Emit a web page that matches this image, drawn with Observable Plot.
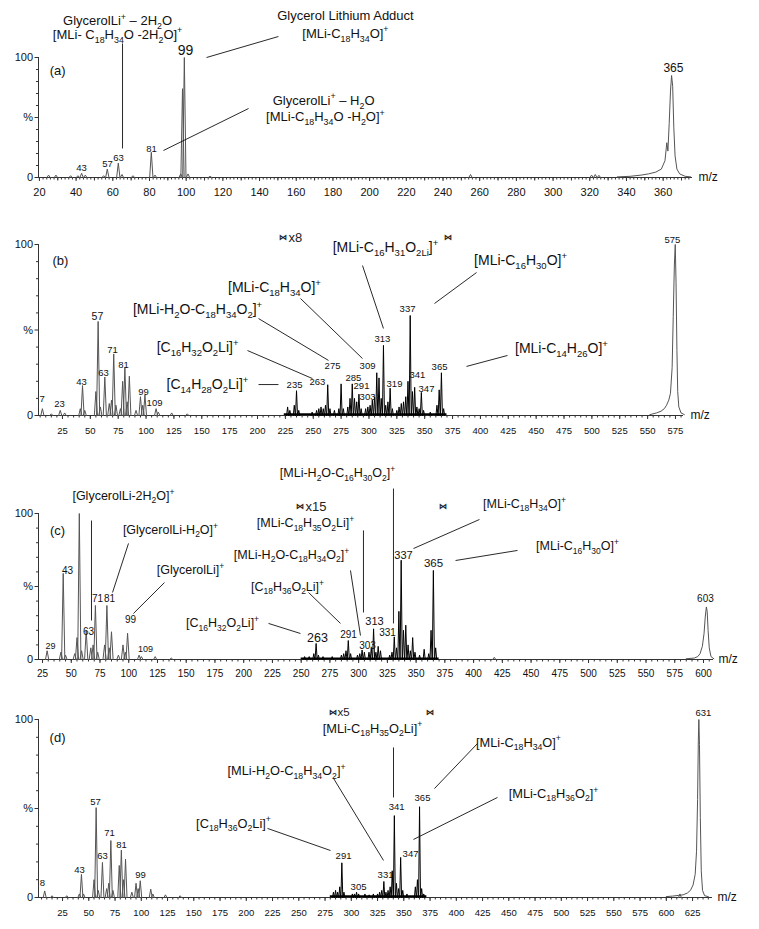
<!DOCTYPE html>
<html><head><meta charset="utf-8">
<script src="https://cdn.jsdelivr.net/npm/d3@7"></script>
<script src="https://cdn.jsdelivr.net/npm/@observablehq/plot@0.6"></script>
<style>
body{margin:0;background:#fff;}
#root{width:759px;}
#root svg{display:block;}
</style></head><body><div id="root"></div>
<script>
// ================= Panel (a) =================
const aPeakMz  = [25, 29, 37, 41, 43, 45, 55, 57, 63, 65, 71, 81, 83, 97, 98, 99, 101, 113, 255, 321, 323, 325];
const aPeakInt = [2, 2, 1.5, 1.5, 3.5, 2, 1.5, 7, 12, 2.5, 1.5, 21, 2, 3, 74, 100, 3, 1, 2.5, 2, 2.5, 1.8];
const aIonMz   = [335, 342, 348, 352, 356, 359, 361, 362, 362.6, 363.3, 364, 364.6, 365.2, 365.8, 366.5, 367.5, 369, 372, 375];
const aIonInt  = [0.5, 1, 2, 3, 4.5, 7, 14, 29, 22, 45, 72, 85, 76, 42, 18, 7, 3, 1, 0.5];
const aLabelText = ["43", "57", "63", "81", "99", "365"];
const aLabelMz   = [42.9, 57.1, 63.1, 81.1, 99.6, 365.6];
const aLabelPct  = [8.3, 11.7, 16.7, 24.2, 105.8, 90.8];
const aNoteText = ["GlycerolLi^{+} – 2H_{2}O", "[MLi- C_{18}H_{34}O -2H_{2}O]^{+}", "Glycerol Lithium Adduct", "[MLi-C_{18}H_{34}O]^{+}", "GlycerolLi^{+} – H_{2}O", "[MLi-C_{18}H_{34}O -H_{2}O]^{+}"];
const aNoteMz   = [62.6, 62.6, 186.8, 186.8, 174.9, 175.9];
const aNotePct  = [130.8, 119.2, 135, 120, 64.2, 50.8];
const aLeads = [[65.3, 111.7, 65.3, 24.2], [111.1, 100, 150.3, 117.5], [87.6, 22.5, 134, 57.5]];

// ================= Panel (b) =================
const bGreyMz  = [7, 15, 23, 27, 41, 43, 45, 55, 57, 59, 63, 67, 69, 71, 73, 77, 79, 81, 83, 85, 91, 95, 97, 99, 109, 111, 123, 137];
const bGreyInt = [4, 1, 3, 1.5, 4, 17.5, 3, 14, 55, 5, 22.5, 7, 9, 36, 6, 4, 20, 28, 8, 23, 3, 11, 6, 12, 4, 2, 1.5, 1];
const bBlackMz  = [227, 229, 233, 235, 237, 249, 253, 255, 257, 259, 261, 263, 265, 269, 273, 275, 277, 281, 283, 285, 287, 289, 291, 293, 297, 299, 301, 303, 305, 307, 309, 311, 313, 315, 317, 319, 321, 325, 327, 329, 331, 333, 335, 337, 339, 341, 343, 345, 347, 349, 355, 361, 363, 365, 367];
const bBlackInt = [5, 3, 6, 14.5, 3, 2, 3, 4, 5, 4, 6, 18, 4, 3, 4, 18.5, 4, 5, 10, 18.5, 10, 8, 12.5, 4, 4, 5, 6, 9, 11, 25, 22, 10, 41, 6, 8, 16, 4, 3, 5, 7, 8, 11, 20, 58.5, 14, 16.5, 5, 4, 13.5, 3, 2, 6, 15, 25, 4];
const bIonMz  = [552, 558, 562, 565, 567, 569, 570.5, 572, 573, 574, 574.8, 575.5, 576.3, 577, 578, 580, 583];
const bIonInt = [0.5, 1.5, 2.5, 4, 6, 9, 13, 28, 58, 88, 100, 78, 38, 14, 5, 1.5, 0.5];
const bLabelText = ["7", "23", "43", "57", "63", "71", "81", "99", "109", "235", "263", "275", "285", "291", "303", "309", "313", "319", "337", "341", "347", "365", "575"];
const bLabelMz   = [6.8, 22.3, 42.1, 56.4, 61.8, 69.9, 79.8, 97.7, 107.6, 233.2, 253.8, 267.3, 286.1, 293.3, 298.7, 298.7, 312.1, 322.9, 334.6, 343.5, 351.6, 363.3, 572.3];
const bLabelPct  = [9.9, 7.0, 19.9, 57.9, 25.1, 38.6, 29.8, 14.0, 7.6, 18.1, 19.9, 29.2, 22.2, 17.0, 11.1, 28.7, 45.0, 18.7, 62.6, 24.0, 15.8, 28.1, 102.9];
const bNoteText = ["[MLi-C_{16}H_{31}O_{2Li}]^{+}", "[MLi-C_{18}H_{34}O]^{+}", "[MLi-H_{2}O-C_{18}H_{34}O_{2}]^{+}", "[C_{16}H_{32}O_{2}Li]^{+}", "[C_{14}H_{28}O_{2}Li]^{+}", "[MLi-C_{16}H_{30}O]^{+}", "[MLi-C_{14}H_{26}O]^{+}"];
const bNoteMz   = [314.8, 215.2, 146.2, 146.2, 155.1, 436.0, 472.7];
const bNotePct  = [98.2, 74.9, 62.0, 39.8, 18.1, 90.6, 39.2];
const bLeads = [[294.2, 87.7, 313.0, 50.9], [238.6, 68.4, 294.2, 33.3], [200.9, 56.7, 263.7, 32.2], [191.0, 38.0, 249.3, 21.6], [200.9, 18.1, 218.8, 18.1], [358.8, 65.5, 396.5, 83.6], [387.5, 28.7, 424.3, 35.1]];
const bZoom = {factor: "x8", from: 223.3, to: 371.3, pct: 104};

// ================= Panel (c) =================
const cGreyMz  = [29, 41, 43, 45, 53, 55, 57, 59, 63, 67, 69, 71, 73, 79, 81, 83, 85, 91, 95, 97, 99, 109, 111, 123, 137, 418];
const cGreyInt = [6, 5, 59, 3, 4, 15, 100, 6, 20, 8, 10, 37, 5, 10, 37, 8, 19, 3, 10, 5, 18, 3, 2, 2, 1, 1.5];
const cBlackMz  = [253, 257, 261, 263, 265, 269, 277, 285, 287, 289, 291, 293, 299, 301, 303, 305, 309, 311, 313, 315, 317, 319, 327, 329, 331, 333, 335, 337, 339, 341, 343, 345, 347, 349, 353, 357, 361, 363, 365, 367];
const cBlackInt = [2, 2, 4, 11, 3, 2, 2, 3, 4, 6, 13, 4, 3, 4, 6.5, 5, 5, 8, 21, 5, 9, 6, 3, 5, 15.5, 8, 33, 68, 20, 23.5, 10, 6, 15, 5, 3, 7, 4, 20, 61, 8];
const cIonMz  = [585, 592, 595, 597, 599, 600.5, 601.5, 602.5, 603.2, 604, 605, 606.5, 609];
const cIonInt = [0.5, 1, 2, 4, 9, 18, 29, 36, 33, 20, 8, 2, 0.5];
const cLabelText = ["29", "43", "63", "71", "81", "99", "109", "263", "291", "303", "313", "331", "337", "365", "603"];
const cLabelMz   = [31.9, 46.7, 65.0, 72.8, 83.3, 101.5, 114.6, 264.2, 291.2, 307.7, 313.8, 325.1, 339.0, 365.1, 601.7];
const cLabelPct  = [8.9, 61.0, 19.2, 41.8, 41.8, 27.4, 6.8, 14.4, 17.1, 9.6, 26.0, 18.5, 71.2, 65.8, 41.8];
const cNoteText = ["[GlycerolLi-2H_{2}O]^{+}", "[GlycerolLi-H_{2}O]^{+}", "[GlycerolLi]^{+}", "[MLi-H_{2}O-C_{16}H_{30}O_{2}]^{+}", "[MLi-C_{18}H_{35}O_{2}Li]^{+}", "[MLi-H_{2}O-C_{18}H_{34}O_{2}]^{+}", "[C_{18}H_{36}O_{2}Li]^{+}", "[C_{16}H_{32}O_{2}Li]^{+}", "[MLi-C_{18}H_{34}O]^{+}", "[MLi-C_{16}H_{30}O]^{+}"];
const cNoteMz   = [95.4, 136.3, 153.7, 281.6, 253.8, 241.6, 238.1, 181.6, 444.3, 490.4];
const cNotePct  = [112.3, 89.0, 61.6, 127.4, 93.2, 71.9, 50.0, 24.7, 106.8, 77.4];
const cLeads = [[67.6, 95.2, 67.6, 26.7], [85.9, 45.9, 99.8, 79.5], [104.1, 31.5, 131.1, 52.7], [330.3, 117.1, 330.3, 24.7], [304.2, 88.4, 304.2, 32.2], [292.9, 61.0, 301.6, 16.4], [256.4, 45.9, 284.2, 24.7], [221.6, 24.7, 249.4, 17.8], [347.7, 76.0, 405.1, 95.9], [384.3, 67.8, 438.2, 74.7]];
const cZoom = {factor: "x15", from: 249.4, to: 373.8, pct: 104.5};

// ================= Panel (d) =================
const dGreyMz  = [8, 15, 29, 41, 43, 45, 55, 57, 59, 63, 67, 69, 71, 73, 79, 81, 83, 85, 91, 95, 97, 99, 109, 111, 123, 137, 613];
const dGreyInt = [3.7, 1, 1, 2, 13, 2, 10, 50.5, 4, 19.7, 5, 8, 32, 4, 18, 26.6, 10, 21.5, 3, 8, 5, 9.4, 4.7, 2, 1.5, 1, 2];
const dBlackMz  = [283, 285, 287, 289, 291, 293, 301, 303, 305, 307, 313, 317, 321, 325, 327, 329, 331, 333, 335, 337, 339, 341, 343, 345, 347, 349, 353, 361, 363, 365, 367, 369];
const dBlackInt = [3, 4, 3, 6, 19.5, 3, 2, 2, 3, 2, 2, 1.5, 2, 2, 3, 4, 9, 3, 4, 6, 15, 46, 8, 5, 22.5, 4, 2, 6, 10, 51, 5, 2];
const dIonMz  = [600, 606, 612, 616, 620, 623, 625.5, 627.5, 628.8, 629.8, 630.5, 631, 631.6, 632.4, 633.3, 634.5, 636.5, 640];
const dIonInt = [0.5, 0.8, 1.2, 1.5, 2.5, 4, 7, 13, 26, 55, 88, 100, 86, 45, 15, 4, 1, 0.5];
const dLabelText = ["8", "43", "57", "63", "71", "81", "99", "291", "305", "331", "341", "347", "365", "631"];
const dLabelMz   = [5.9, 41.1, 56.4, 63.1, 69.7, 81.1, 99.2, 292.6, 306.9, 332.6, 343.1, 356.4, 367.8, 635.4];
const dLabelPct  = [8.4, 15.7, 53.4, 23.6, 36.0, 29.8, 12.4, 23.6, 6.2, 12.4, 50.6, 24.7, 56.2, 103.4];
const dNoteText = ["[MLi-C_{18}H_{35}O_{2}Li]^{+}", "[MLi-H_{2}O-C_{18}H_{34}O_{2}]^{+}", "[C_{18}H_{36}O_{2}Li]^{+}", "[MLi-C_{18}H_{34}O]^{+}", "[MLi-C_{18}H_{36}O_{2}]^{+}"];
const dNoteMz   = [320.2, 238.3, 187.8, 459.2, 492.6];
const dNotePct  = [95.0, 71.3, 41.6, 87.1, 58.4];
const dLeads = [[340.2, 84.3, 340.2, 56.2], [283.1, 66.9, 330.7, 20.8], [220.2, 38.8, 280.2, 26.4], [379.2, 61.2, 420.2, 86.5], [359.2, 32.6, 439.2, 56.2]];
const dZoom = {factor: "x5", from: 282.1, to: 375.4, pct: 103.8};

// ================= drawing =================
const AX = "#333", GREY = "#555", FONT = '"Liberation Sans", Arial, Helvetica, sans-serif';

function tri(mz, it, hw, key) {
  const out = [];
  mz.forEach((m, i) => {
    out.push({x: m - hw, y: 0, z: key + i});
    out.push({x: m, y: it[i], z: key + i});
    out.push({x: m + hw, y: 0, z: key + i});
  });
  return out;
}
function zipPts(xs, ys) { return xs.map((x, i) => ({x, y: ys[i]})); }
function zipText(ts, xs, ys) { return ts.map((t, i) => ({t, x: xs[i], y: ys[i]})); }

function panel(c) {
  const [d0, d1] = c.domain;
  const marks = [
    Plot.ruleY([0], {x1: d0, x2: d1, stroke: AX, strokeWidth: 1}),
    Plot.ruleX([d0], {y1: 0, y2: 100, stroke: AX, strokeWidth: 1}),
    Plot.axisX({ticks: c.minor, tickSize: 2.5, tickFormat: () => "", label: null, stroke: AX}),
    c.mid ? Plot.axisX({ticks: c.mid, tickSize: 3.5, tickFormat: () => "", label: null, stroke: AX}) : null,
    Plot.axisX({ticks: c.major, tickSize: 4, tickPadding: c.tickPad, tickFormat: d => String(d), fontSize: c.xFont, label: null, stroke: AX, fill: "#111"}),
    Plot.axisY({ticks: [10, 20, 30, 40, 60, 70, 80, 90], tickSize: 2, tickFormat: () => "", label: null, stroke: AX}),
    Plot.axisY({ticks: [0, 50, 100], tickSize: 3.5, tickPadding: 2, tickFormat: d => d === 50 ? "%" : String(d), fontSize: 11, label: null, stroke: AX, fill: "#111"}),
    Plot.line(tri(c.greyMz, c.greyInt, c.hwGrey, "g"), {x: "x", y: "y", z: "z", stroke: GREY, strokeWidth: 1}),
    Plot.line(zipPts(c.ionMz, c.ionInt), {x: "x", y: "y", stroke: GREY, strokeWidth: 1})
  ];
  if (c.blackMz) {
    marks.push(Plot.ruleY([0.7], {x1: c.blackMz[0] - 3, x2: c.blackMz[c.blackMz.length - 1] + 3, stroke: "#000", strokeWidth: 2}));
    marks.push(Plot.line(tri(c.blackMz, c.blackInt, c.hwBlack, "b"), {x: "x", y: "y", z: "z", stroke: "#000", strokeWidth: 1}));
  }
  marks.push(Plot.link(c.leads, {x1: d => d[0], y1: d => d[1], x2: d => d[2], y2: d => d[3], stroke: "#111", strokeWidth: 0.9}));
  marks.push(Plot.text(zipText(c.labelText, c.labelMz, c.labelPct), {x: "x", y: "y", text: "t", fontSize: d => (c.labelSize[d.t] || c.labelFont), fill: "#111"}));
  marks.push(Plot.text(zipText(c.noteText, c.noteMz, c.notePct), {x: "x", y: "y", text: "t", fontSize: c.noteFont, fill: "#111"}));
  marks.push(Plot.text(["m/z"], {x: d1, y: 0, text: d => d, dx: c.mzDx, textAnchor: "start", fontSize: 12, fill: "#111"}));
  marks.push(Plot.text([c.name], {x: c.nameMz, y: c.namePct, text: d => d, fontSize: 13, fill: "#111"}));
  if (c.zoom) {
    marks.push(Plot.text([c.zoom.from, c.zoom.to], {x: d => d, y: c.zoom.pct, text: () => "⋈", fontSize: 8, fontWeight: "bold", fill: "#222"}));
    marks.push(Plot.text([c.zoom.factor], {x: c.zoom.from, y: c.zoom.pct, text: d => d, dx: 5, textAnchor: "start", fontSize: c.zoomFont, fill: "#222"}));
  }
  return Plot.plot({
    width: 759, height: c.height,
    marginLeft: 38, marginRight: c.mr, marginTop: c.mt, marginBottom: c.mb,
    x: {domain: c.domain},
    y: {domain: [0, 100]},
    style: {fontFamily: FONT, fontSize: "11px", color: "#111", background: "white", overflow: "visible"},
    marks: marks.filter(Boolean)
  });
}

function rich(svg) {
  svg.querySelectorAll("text").forEach(t => {
    const s = t.textContent;
    if (!/[_^]\{/.test(s) || t.querySelector("tspan")) return;
    const fs = parseFloat(getComputedStyle(t).fontSize) || 12;
    const parts = s.split(/([_^]\{[^}]*\})/).filter(p => p.length);
    t.textContent = "";
    let cur = 0;
    for (const p of parts) {
      const ts = document.createElementNS("http://www.w3.org/2000/svg", "tspan");
      let off = 0, txt = p, small = false;
      if (p.startsWith("_{")) { off = 0.3 * fs; txt = p.slice(2, -1); small = true; }
      else if (p.startsWith("^{")) { off = -0.4 * fs; txt = p.slice(2, -1); small = true; }
      if (off !== cur) ts.setAttribute("dy", (off - cur).toFixed(2));
      cur = off;
      if (small) ts.setAttribute("font-size", (0.68 * fs).toFixed(2));
      ts.textContent = txt;
      t.appendChild(ts);
    }
  });
}

const panels = [
  {name: "(a)", nameMz: 29.9, namePct: 89.2, height: 205, mt: 57, mb: 28, mr: 67, domain: [19.5, 376],
   major: d3.range(20, 361, 20), mid: d3.range(30, 371, 20), minor: d3.range(20, 375, 2), tickPad: 7, xFont: 11, mzDx: 6,
   greyMz: aPeakMz, greyInt: aPeakInt, hwGrey: 0.9, ionMz: aIonMz, ionInt: aIonInt,
   labelText: aLabelText, labelMz: aLabelMz, labelPct: aLabelPct, labelFont: 9.5, labelSize: {"99": 14, "365": 12},
   noteText: aNoteText, noteMz: aNoteMz, notePct: aNotePct, noteFont: 13, leads: aLeads},
  {name: "(b)", nameMz: 23.2, namePct: 90.6, height: 240, mt: 39, mb: 30, mr: 76, domain: [3.5, 582.2],
   major: d3.range(25, 576, 25), minor: d3.range(5, 581, 5), tickPad: 8, xFont: 9.5, mzDx: 7,
   greyMz: bGreyMz, greyInt: bGreyInt, hwGrey: 1.4, ionMz: bIonMz, ionInt: bIonInt,
   blackMz: bBlackMz, blackInt: bBlackInt, hwBlack: 0.9,
   labelText: bLabelText, labelMz: bLabelMz, labelPct: bLabelPct, labelFont: 9.5, labelSize: {"57": 10.5},
   noteText: bNoteText, noteMz: bNoteMz, notePct: bNotePct, noteFont: 14, leads: bLeads, zoom: bZoom, zoomFont: 13},
  {name: "(c)", nameMz: 38, namePct: 88.4, height: 240, mt: 68, mb: 26, mr: 46, domain: [21.5, 608.7],
   major: d3.range(25, 601, 25), minor: d3.range(25, 606, 5), tickPad: 6, xFont: 10, mzDx: 5,
   greyMz: cGreyMz, greyInt: cGreyInt, hwGrey: 1.4, ionMz: cIonMz, ionInt: cIonInt,
   blackMz: cBlackMz, blackInt: cBlackInt, hwBlack: 0.9,
   labelText: cLabelText, labelMz: cLabelMz, labelPct: cLabelPct, labelFont: 10, labelSize: {"263": 12.5, "313": 11, "337": 11, "365": 11.5, "29": 9, "109": 9},
   noteText: cNoteText, noteMz: cNoteMz, notePct: cNotePct, noteFont: 12.5, leads: cLeads, zoom: cZoom, zoomFont: 13},
  {name: "(d)", nameMz: 20.2, namePct: 89.9, height: 244, mt: 34, mb: 32, mr: 47, domain: [2.1, 644],
   major: d3.range(25, 626, 25), minor: d3.range(5, 641, 5), tickPad: 8, xFont: 9.5, mzDx: 5,
   greyMz: dGreyMz, greyInt: dGreyInt, hwGrey: 1.4, ionMz: dIonMz, ionInt: dIonInt,
   blackMz: dBlackMz, blackInt: dBlackInt, hwBlack: 0.9,
   labelText: dLabelText, labelMz: dLabelMz, labelPct: dLabelPct, labelFont: 9.5, labelSize: {},
   noteText: dNoteText, noteMz: dNoteMz, notePct: dNotePct, noteFont: 12.8, leads: dLeads, zoom: dZoom, zoomFont: 11.5}
];

const root = document.getElementById("root");
for (const c of panels) {
  const svg = panel(c);
  root.appendChild(svg);
  rich(svg);
}
</script>
</body></html>
